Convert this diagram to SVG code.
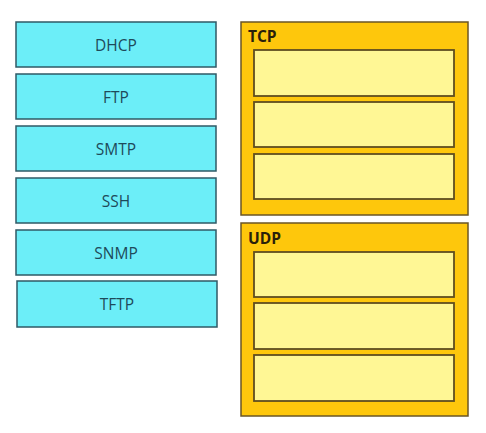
<svg xmlns="http://www.w3.org/2000/svg" width="486" height="433" viewBox="0 0 486 433">
<style>
.p{fill:#6ceef8;stroke:#2f5a66;stroke-width:1.5}
.pt{font-family:"Open Sans","Liberation Sans",sans-serif;font-size:15.5px;fill:#1e4a5a;text-anchor:middle}
.g{fill:#fec70c;stroke:#6a5626;stroke-width:1.5}
.s{fill:#fff795;stroke:#5f4d20;stroke-width:1.8}
.gt{font-family:"Open Sans","Liberation Sans",sans-serif;font-size:15.5px;font-weight:bold;fill:#2a200a}
</style>
<rect width="486" height="433" fill="#ffffff"/>
<g id="dhcp"><rect class="p" x="16" y="22" width="200" height="45"/><text class="pt" x="116" y="50.5">DHCP</text></g>
<g id="ftp"><rect class="p" x="16" y="74" width="200" height="45"/><text class="pt" x="116" y="102.5">FTP</text></g>
<g id="smtp"><rect class="p" x="16" y="126" width="200" height="45"/><text class="pt" x="116" y="154.5">SMTP</text></g>
<g id="ssh"><rect class="p" x="16" y="178" width="200" height="45"/><text class="pt" x="116" y="206.5">SSH</text></g>
<g id="snmp"><rect class="p" x="16" y="230" width="200" height="45"/><text class="pt" x="116" y="258.5">SNMP</text></g>
<g id="tftp"><rect class="p" x="17" y="281" width="200" height="46"/><text class="pt" x="117" y="310">TFTP</text></g>
<g id="tcp">
<rect class="g" x="241" y="22" width="227" height="193"/>
<text class="gt" x="248" y="42">TCP</text>
<rect class="s" x="254" y="50" width="200" height="46"/>
<rect class="s" x="254" y="102" width="200" height="45"/>
<rect class="s" x="254" y="154" width="200" height="45"/>
</g>
<g id="udp">
<rect class="g" x="241" y="223" width="227" height="193"/>
<text class="gt" x="248" y="244">UDP</text>
<rect class="s" x="254" y="252" width="200" height="45"/>
<rect class="s" x="254" y="303" width="200" height="46"/>
<rect class="s" x="254" y="355" width="200" height="46"/>
</g>
<g id="connectors"/>
</svg>
